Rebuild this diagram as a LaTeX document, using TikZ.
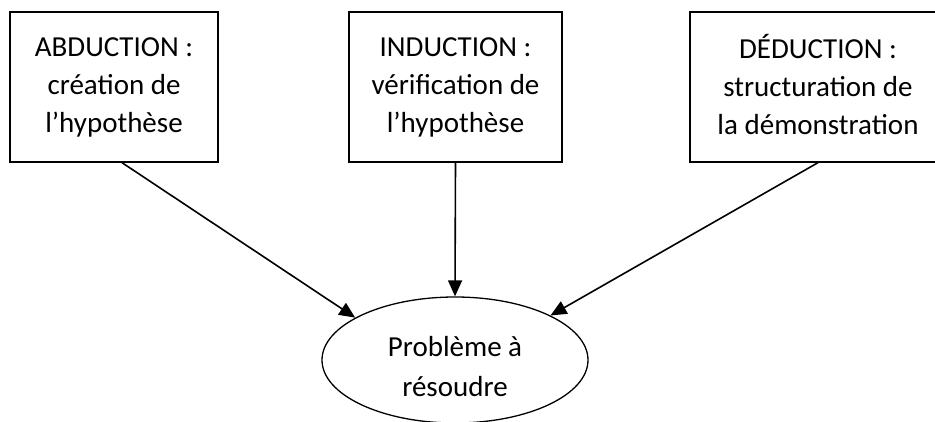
\documentclass[tikz,border=0pt]{standalone}
\usepackage{fontspec}
\setmainfont{Carlito}
\usetikzlibrary{arrows.meta,shapes.geometric}

\begin{document}
\begin{tikzpicture}[x=1pt,y=1pt,thick,
          every node/.style={inner sep=2pt,align=center,
            font=\fontsize{29pt}{38pt}\selectfont},
          etape/.style={draw,line width=1.3pt,minimum height=150pt},
          >={Triangle[length=16pt,width=14pt]}]
          \useasboundingbox(0,0)rectangle(935,421);
          \node[etape,minimum width=208pt](abd)at(114,334)
             {ABDUCTION :\\cr\'eation de\\l’hypoth\`ese};
          \node[etape,minimum width=213pt](ind)at(455.5,334)
             {INDUCTION :\\v\'erification de\\l’hypoth\`ese};
          \node[etape,minimum width=256pt](ded)at(818,334)
             {D\'EDUCTION :\\structuration de\\la d\'emonstration\vphantom{y}};
          \node[draw,ellipse,line width=1.3pt,minimum width=266pt,
             minimum height=126pt,label={[yshift=-7pt,
             font=\fontsize{29pt}{40pt}\selectfont]center:Probl\`eme \`a\\r\'esoudre}]
             (pb)at(455,61){};
          \draw[->,line width=1.6pt]([xshift=8pt]abd.south)--(pb.157);
          \draw[->,line width=1.6pt](ind.south)--(pb.north);
          \draw[->,line width=1.6pt](ded.south)--(pb.25);
        \end{tikzpicture}
\end{document}
